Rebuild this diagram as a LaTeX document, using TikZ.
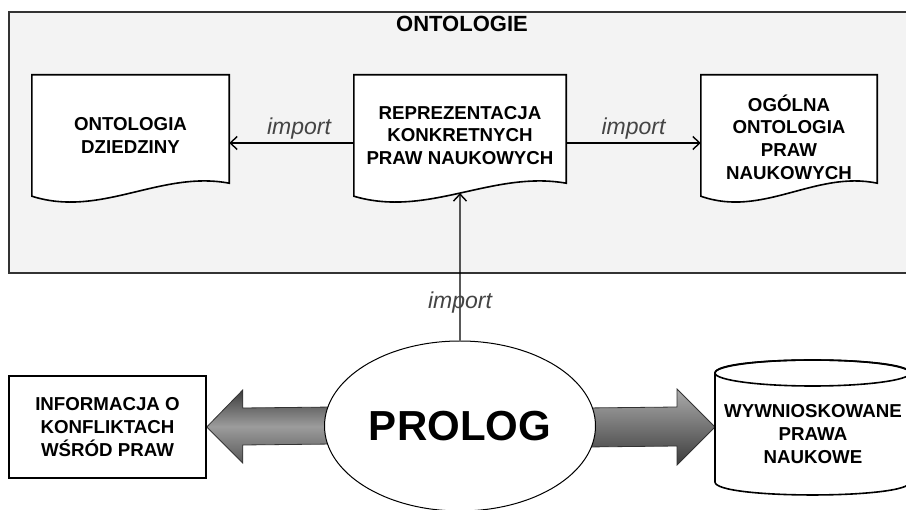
\documentclass[tikz,border=0pt]{standalone}
\usepackage{fontspec}
\setmainfont{Liberation Sans}
\usetikzlibrary{shapes.geometric,arrows.meta,calc}
\pgfdeclarelayer{bg}
\pgfsetlayers{bg,main}
\definecolor{framefill}{HTML}{F3F3F3}
\definecolor{frameline}{HTML}{333333}
\definecolor{importcol}{HTML}{444444}
\definecolor{arrdark}{HTML}{3C3C3C}
\definecolor{arrmid}{HTML}{9C9C9C}
\definecolor{arrlight}{HTML}{ABABAB}
\begin{document}
\begin{tikzpicture}[x=1pt,y=-1pt,
  lbl/.style={font=\fontsize{18.7}{22.7}\selectfont\bfseries, align=center, text=black},
  docbox/.style={lbl, draw=none, inner sep=0pt, minimum height=121pt},
  docline/.style={draw=black, fill=white, line width=1.6pt},
  conn/.style={draw=black, line width=1.4pt, -{Straight Barb[length=7pt,width=13pt,line width=1.4pt]}},
  implbl/.style={font=\fontsize{23}{26}\selectfont\itshape, text=importcol},
  blockarrow/.style={draw=frameline, line width=0.8pt}
]
\useasboundingbox (0,0) rectangle (906,510);
\clip (0,0) rectangle (906,510);

% title
\node[lbl, font=\fontsize{22}{26}\selectfont\bfseries] (onto) at (462,24) {ONTOLOGIE};

% document nodes
\node[docbox, minimum width=197pt] (dom) at (130.5,135.5) {ONTOLOGIA\\DZIEDZINY};
\node[docbox, minimum width=212pt] (rep) at (460,135.5) {REPREZENTACJA\\KONKRETNYCH\\PRAW NAUKOWYCH};
\node[docbox, minimum width=176pt] (gen) at (789,137) {OG\'OLNA\\ONTOLOGIA\\PRAW\\NAUKOWYCH};

% bottom nodes
\node[ellipse, draw=black, line width=1pt, fill=white, minimum width=271pt, minimum height=170pt,
      inner sep=0pt, font=\fontsize{42}{50}\selectfont\bfseries] (prolog) at (460,426) {PROLOG};
\node[lbl, draw=black, line width=1.5pt, minimum width=197pt, minimum height=102pt, inner sep=0pt]
      (info) at (107.5,427) {INFORMACJA O\\KONFLIKTACH\\W\'SR\'OD PRAW};
\node[lbl] (db) at (813,434) {WYWNIOSKOWANE\\PRAWA\\NAUKOWE};
\coordinate (dbw) at (715,427);

\begin{pgfonlayer}{bg}
  % frame
  \draw[line width=2pt, draw=frameline, fill=framefill] (9,12) rectangle (940,273);
  % document shapes
  \draw[docline] (dom.north west) -- (dom.north east) -- ($(dom.south east)+(0,-13)$)
     .. controls ($(dom.south east)+(-69,-26)$) and ($(dom.south west)+(69,22)$) .. (dom.south west) -- cycle;
  \draw[docline] (rep.north west) -- (rep.north east) -- ($(rep.south east)+(0,-13)$)
     .. controls ($(rep.south east)+(-74,-26)$) and ($(rep.south west)+(74,22)$) .. coordinate[pos=0.5] (repw) (rep.south west) -- cycle;
  \draw[docline] ($(gen.north west)+(0,-1.5)$) -- ($(gen.north east)+(0,-1.5)$) -- ($(gen.south east)+(0,-14.5)$)
     .. controls ($(gen.south east)+(-62,-27.5)$) and ($(gen.south west)+(62,20.5)$) .. ($(gen.south west)+(0,-1.5)$) -- cycle;
  % block arrows
  \shade[top color=arrdark, bottom color=arrdark!85!white, middle color=arrmid]
     (info.east) -- ++(36,-37) -- ++(0,18) -- ($(prolog.west)+(10,-19)$) -- ($(prolog.west)+(10,18)$)
     -- ($(info.east)+(36,18)$) -- ($(info.east)+(36,36)$) -- cycle;
  \draw[blockarrow]
     ($(prolog.west)+(10,-19)$) -- ($(info.east)+(36,-19)$) -- ($(info.east)+(36,-37)$) -- (info.east)
     -- ($(info.east)+(36,36)$) -- ($(info.east)+(36,18)$) -- ($(prolog.west)+(10,18)$);
  \shade[top color=arrlight, bottom color=arrdark]
     (dbw) -- ++(-38,-38) -- ++(0,18) -- ($(prolog.east)+(-10,-18)$) -- ($(prolog.east)+(-10,21)$)
     -- ($(dbw)+(-38,19)$) -- ($(dbw)+(-38,38)$) -- cycle;
  \draw[blockarrow]
     ($(prolog.east)+(-10,-18)$) -- ($(dbw)+(-38,-20)$) -- ($(dbw)+(-38,-38)$) -- (dbw)
     -- ($(dbw)+(-38,38)$) -- ($(dbw)+(-38,19)$) -- ($(prolog.east)+(-10,21)$);
  % cylinder
  \draw[docline] (715,373) -- (715,482) .. controls (715,499.3) and (910,499.3) .. (910,482)
     -- (910,373) .. controls (910,355.7) and (715,355.7) .. (715,373) -- cycle;
  \draw[line width=1.6pt] (812.5,373) ellipse [x radius=97.5, y radius=13];
\end{pgfonlayer}

% connectors
\draw[conn] ($(rep.west)+(0,7.5)$) -- node[implbl, above, pos=0.44] {import} ($(dom.east)+(0,7.5)$);
\draw[conn] ($(rep.east)+(0,7.5)$) -- node[implbl, above, pos=0.5] {import} ($(gen.west)+(0,6)$);
\draw[conn] (prolog.north) -- node[implbl, pos=0.26] {import} (repw);
\end{tikzpicture}
\end{document}
